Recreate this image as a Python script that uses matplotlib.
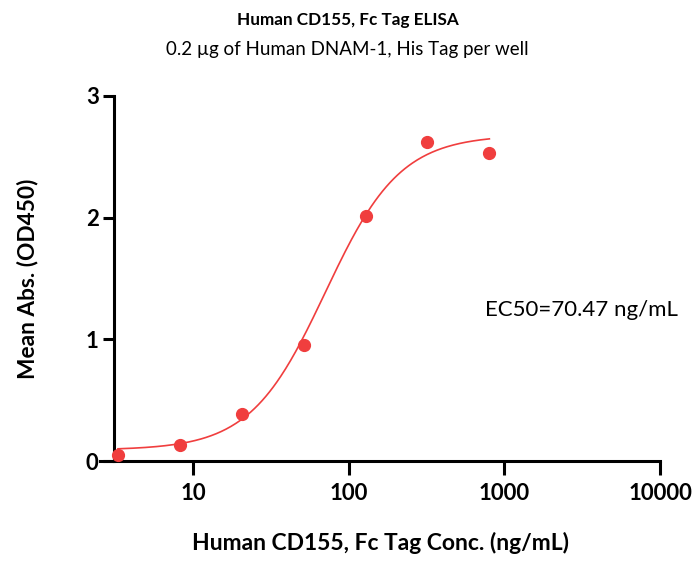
import numpy as np
import matplotlib.pyplot as plt

plt.rcParams['font.family'] = ['Lato', 'DejaVu Sans']

# measured points (2.5-fold dilution series)
conc = [3.2768, 8.192, 20.48, 51.2, 128, 320, 800]
od450 = [0.05, 0.13, 0.39, 0.95, 2.01, 2.62, 2.53]

# 4PL fit parameters
bottom = 0.09
top = 2.68
ec50 = 70.47
hill = 1.8

red = '#F03E3E'

fig = plt.figure(figsize=(6.95, 5.61), dpi=100)
ax = fig.add_axes([100/695, 100/561, 560/695, 365/561])

xf = np.logspace(np.log10(conc[0]), np.log10(conc[-1]), 300)
yf = bottom + (top - bottom) / (1 + (ec50 / xf) ** hill)
ax.plot(xf, yf, color=red, lw=1.2, clip_on=False, zorder=3)
ax.plot(conc, od450, 'o', color=red, ms=8.5, clip_on=False, zorder=4)

ax.set_xscale('log')
ax.set_xlim(10**0.4, 10**4.0)
ax.set_ylim(0, 3)
ax.set_xticks([10, 100, 1000, 10000])
ax.set_xticklabels(['10', '100', '1000', '10000'])
ax.xaxis.set_minor_locator(plt.NullLocator())
ax.set_yticks([0, 1, 2, 3])

for s in ['top', 'right']:
    ax.spines[s].set_visible(False)
ax.spines['left'].set_position(('data', 10**0.49))
ax.spines['left'].set_bounds(0, 3)
for s in ['left', 'bottom']:
    ax.spines[s].set_linewidth(2.2)

ax.tick_params(axis='x', length=10, width=2.2, labelsize=16, pad=6)
ax.tick_params(axis='y', length=8, width=2.2, labelsize=16, pad=3)
for lab in ax.get_xticklabels() + ax.get_yticklabels():
    lab.set_fontweight('bold')

ax.set_xlabel('Human CD155, Fc Tag Conc. (ng/mL)', fontsize=16.5,
              fontweight='bold', labelpad=20)
ax.set_ylabel('Mean Abs. (OD450)', fontsize=16.3, fontweight='bold',
              labelpad=34)

ax.text(754, 1.24, 'EC50=70.47 ng/mL', fontsize=16, va='center', ha='left')

fig.text(0.5, 1 - 20/561, 'Human CD155, Fc Tag ELISA', fontsize=12.3,
         fontweight='bold', ha='center', va='center')
fig.text(0.5, 1 - 50/561, '0.2 µg of Human DNAM-1, His Tag per well',
         fontsize=13.5, ha='center', va='center')

fig.savefig('out.png', dpi=100)
